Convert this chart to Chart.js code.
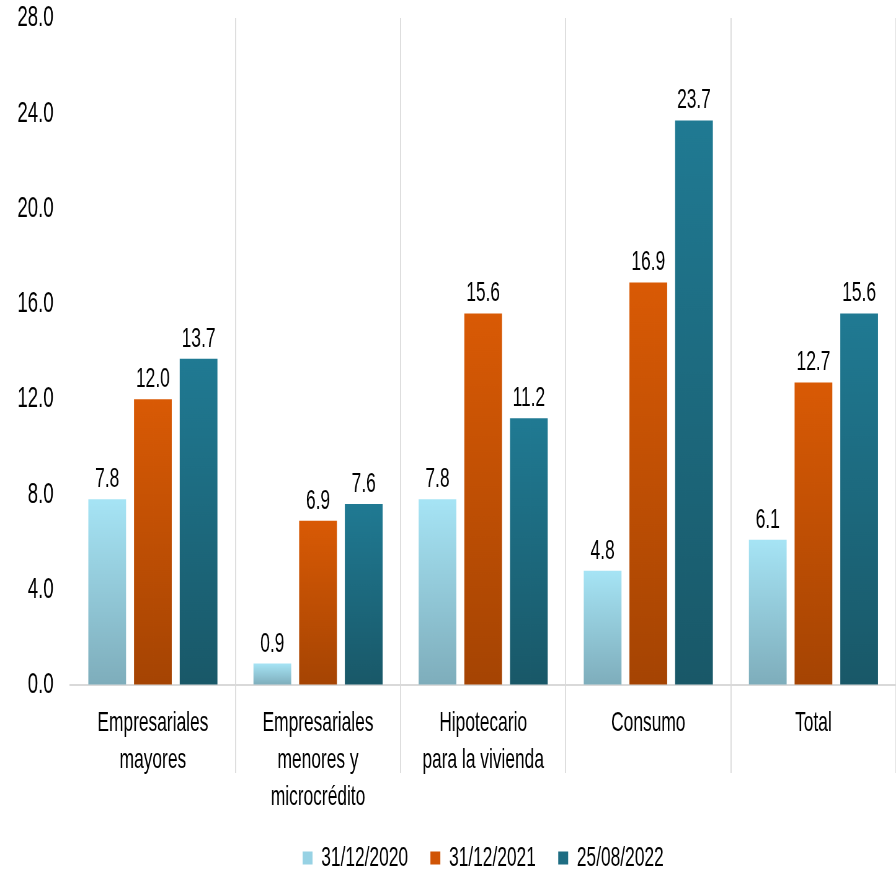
<!DOCTYPE html>
<html>
<head>
<meta charset="utf-8">
<script src="https://cdn.jsdelivr.net/npm/chart.js@4.4.0/dist/chart.umd.min.js"></script>
<style>
  html, body { margin: 0; padding: 0; background: #ffffff; overflow: hidden; width: 896px; height: 876px; }
  #c { display: block; width: 1445px; height: 876px; transform: scaleX(0.62007); transform-origin: 0 0; }
</style>
</head>
<body>
<canvas id="c" width="1445" height="876"></canvas>
<script>
const categories = [
  ["Empresariales", "mayores"],
  ["Empresariales", "menores y", "microcrédito"],
  ["Hipotecario", "para la vivienda"],
  ["Consumo"],
  ["Total"]
];
const seriesNames = ["31/12/2020", "31/12/2021", "25/08/2022"];
const values2020 = [7.8, 0.9, 7.8, 4.8, 6.1];
const values2021 = [12.0, 6.9, 15.6, 16.9, 12.7];
const values2022 = [13.7, 7.6, 11.2, 23.7, 15.6];
const yTicks = [0, 4, 8, 12, 16, 20, 24, 28];

const FONT = '"Liberation Sans", Arial, sans-serif';

const palettes = [
  { top: '#a6e4f5', bottom: '#7eadbb', legend: '#97d2e4' },
  { top: '#d95a05', bottom: '#a54403', legend: '#d05405' },
  { top: '#207a93', bottom: '#195868', legend: '#1e6d83' }
];

function barGradient(idx) {
  return function (ctx) {
    const chart = ctx.chart;
    const area = chart.chartArea;
    const p = palettes[idx];
    if (!area || ctx.type !== 'data') return p.legend;
    const yScale = chart.scales.y;
    const yTop = yScale.getPixelForValue(ctx.raw);
    const yBase = yScale.getPixelForValue(0);
    if (!isFinite(yTop) || !isFinite(yBase) || Math.abs(yBase - yTop) < 1) return p.top;
    const g = chart.ctx.createLinearGradient(0, yTop, 0, yBase);
    g.addColorStop(0, p.top);
    g.addColorStop(1, p.bottom);
    return g;
  };
}

const valueLabels = {
  id: 'valueLabels',
  afterDatasetsDraw(chart) {
    const c = chart.ctx;
    c.save();
    c.font = '28px ' + FONT;
    c.fillStyle = '#000000';
    c.textAlign = 'center';
    c.textBaseline = 'alphabetic';
    chart.data.datasets.forEach((ds, di) => {
      const meta = chart.getDatasetMeta(di);
      meta.data.forEach((el, i) => {
        c.fillText(ds.data[i].toFixed(1), el.x, el.y - 12);
      });
    });
    c.restore();
  }
};

const datasets = [values2020, values2021, values2022].map((vals, i) => ({
  label: seriesNames[i],
  data: vals,
  backgroundColor: barGradient(i),
  borderWidth: 0,
  categoryPercentage: 0.83,
  barPercentage: 0.826
}));

new Chart(document.getElementById('c'), {
  type: 'bar',
  data: { labels: categories, datasets },
  options: {
    responsive: false,
    animation: false,
    devicePixelRatio: 1,
    layout: { padding: { top: 0, right: 0, left: 28, bottom: -6 } },
    plugins: {
      legend: {
        position: 'bottom',
        fullSize: false,
        labels: {
          font: { family: FONT, size: 28 },
          color: '#000000',
          boxWidth: 16,
          boxHeight: 13,
          padding: 36,
          generateLabels(chart) {
            return chart.data.datasets.map((ds, i) => ({
              text: ds.label,
              fillStyle: palettes[i].legend,
              strokeStyle: palettes[i].legend,
              lineWidth: 0,
              hidden: false,
              datasetIndex: i,
              fontColor: '#000000'
            }));
          }
        }
      },
      title: { display: false },
      tooltip: { enabled: false }
    },
    scales: {
      x: {
        offset: true,
        grid: {
          offset: true,
          drawOnChartArea: true,
          drawTicks: true,
          tickLength: 88,
          lineWidth: 2,
          color: (ctx) => (ctx.index === 0 || ctx.index === categories.length) ? 'rgba(0,0,0,0)' : '#dedede'
        },
        border: { display: true, color: '#d9d9d9', width: 2 },
        ticks: {
          font: { family: FONT, size: 28, lineHeight: 1.32 },
          color: '#000000',
          padding: -68,
          maxRotation: 0,
          autoSkip: false
        },
        afterFit(scale) { scale.height = 123; }
      },
      y: {
        min: 0,
        max: 28,
        grid: {
          display: true,
          drawOnChartArea: false,
          drawTicks: true,
          tickLength: 27,
          color: 'rgba(0,0,0,0)'
        },
        border: { display: false },
        afterBuildTicks(scale) { scale.ticks = yTicks.map(v => ({ value: v })); },
        ticks: {
          font: { family: FONT, size: 30 },
          color: '#000000',
          padding: 0,
          callback: (v) => Number(v).toFixed(1)
        }
      }
    }
  },
  plugins: [valueLabels]
});
</script>
</body>
</html>
